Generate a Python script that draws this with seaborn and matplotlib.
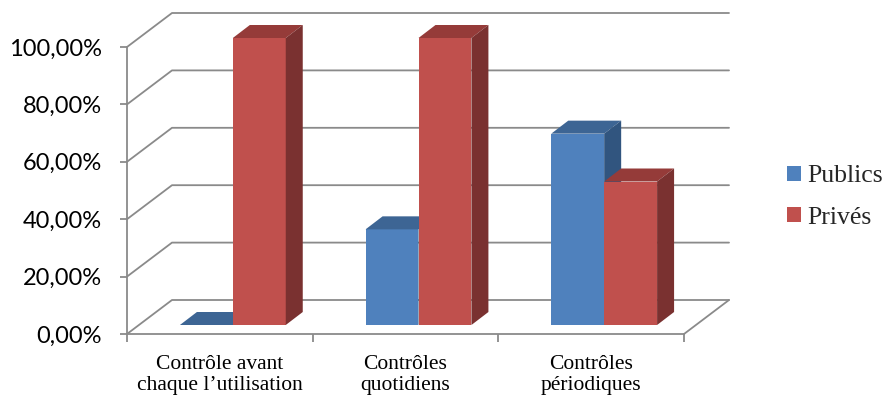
import matplotlib
matplotlib.use("Agg")
import matplotlib.pyplot as plt
import numpy as np
import pandas as pd
import seaborn as sns
from matplotlib.transforms import Affine2D, IdentityTransform
from matplotlib.patches import Polygon, Patch
from matplotlib.lines import Line2D

# ---- data -------------------------------------------------------------
categories = ["Contrôle avant\nchaque l’utilisation", "Contrôles\nquotidiens", "Contrôles\npériodiques"]
series = ["Publics", "Privés"]
publics = [0.0, 33.33, 66.67]
prives = [100.0, 100.0, 50.0]
y_ticks = [0, 20, 40, 60, 80, 100]
y_tick_labels = [f"{v:.2f}%".replace(".", ",") for v in y_ticks]

# ---- style ------------------------------------------------------------
front_colors = {"Publics": "#4F81BD", "Privés": "#C0504D"}
top_colors = {"Publics": "#3D6594", "Privés": "#953B39"}
side_colors = {"Publics": "#31557F", "Privés": "#7A3130"}
grid_color = "#8A8A8A"

wall_off = (45, 34)     # depth of the box (display px)
bar_shift = (13, 9)     # bars sit part-way into the box
bar_depth = (17, 13)    # depth of each bar

df = pd.DataFrame({
    "categorie": categories * 2,
    "serie": [series[0]] * len(categories) + [series[1]] * len(categories),
    "valeur": publics + prives,
})

sns.set_style("white")
fig = plt.figure(figsize=(8.85, 3.96), dpi=100)
ax = fig.add_axes([127 / 885, 62 / 396, 557 / 885, 287 / 396])

sns.barplot(data=df, x="categorie", y="valeur", hue="serie", hue_order=series,
            palette=front_colors, saturation=1, width=0.57, linewidth=0,
            legend=False, ax=ax)

ax.set_xlim(-0.5, len(categories) - 0.5)
ax.set_ylim(0, 100)

# ---- box walls: gridlines on back wall + left wall, floor ----------------
to_disp = ax.transData.transform
for v in y_ticks:
    x0, y0 = to_disp((-0.5, v))
    x1, _ = to_disp((len(categories) - 0.5, v))
    ax.add_line(Line2D([x0, x0 + wall_off[0], x1 + wall_off[0]],
                       [y0, y0 + wall_off[1], y0 + wall_off[1]],
                       transform=IdentityTransform(), color=grid_color,
                       lw=1.3, zorder=1, clip_on=False))
fx0, fy0 = to_disp((len(categories) - 0.5, 0))
ax.add_line(Line2D([fx0, fx0 + wall_off[0]], [fy0, fy0 + wall_off[1]],
                   transform=IdentityTransform(), color=grid_color,
                   lw=1.3, zorder=1, clip_on=False))

# ---- 3D bars ------------------------------------------------------------
shift_tr = ax.transData + Affine2D().translate(*bar_shift)
for i, (name, cont) in enumerate(zip(series, ax.containers)):
    for p in cont.patches:
        p.set_transform(shift_tr)
        p.set_clip_on(False)
        p.set_zorder(3 + i)
        xa, ya = p.get_x(), p.get_y()
        w, h = p.get_width(), p.get_height()
        (dx0, dy0) = shift_tr.transform((xa, ya))
        (dx1, dy1) = shift_tr.transform((xa + w, ya + h))
        ddx, ddy = bar_depth
        top = Polygon([(dx0, dy1), (dx1, dy1), (dx1 + ddx, dy1 + ddy), (dx0 + ddx, dy1 + ddy)],
                      closed=True, facecolor=top_colors[name], edgecolor="none",
                      transform=IdentityTransform(), zorder=3.5 + i, clip_on=False)
        side = Polygon([(dx1, dy0), (dx1, dy1), (dx1 + ddx, dy1 + ddy), (dx1 + ddx, dy0 + ddy)],
                       closed=True, facecolor=side_colors[name], edgecolor="none",
                       transform=IdentityTransform(), zorder=3.5 + i, clip_on=False)
        ax.add_patch(top)
        ax.add_patch(side)

ax.set_xlim(-0.5, len(categories) - 0.5)
ax.set_ylim(0, 100)

# ---- axes, ticks, labels ----------------------------------------------
for s in ["top", "right"]:
    ax.spines[s].set_visible(False)
for s in ["left", "bottom"]:
    ax.spines[s].set_color(grid_color)
    ax.spines[s].set_linewidth(1.3)
    ax.spines[s].set_zorder(2)

ax.set_yticks(y_ticks)
ax.set_yticklabels(y_tick_labels, fontfamily="Lato", fontsize=17, color="black")
ax.tick_params(axis="y", left=True, length=5, width=1.3, color=grid_color, pad=13)

ax.set_xticks(range(len(categories)))
ax.set_xticklabels(categories, fontfamily="Liberation Serif", fontsize=15.5,
                   color="black", linespacing=1.15)
ax.set_xticks(np.arange(-0.5, len(categories), 1.0), minor=True)
ax.tick_params(axis="x", which="major", bottom=False, length=0, pad=15)
ax.tick_params(axis="x", which="minor", bottom=True, length=6, width=1.3, color=grid_color)

ax.set_xlabel("")
ax.set_ylabel("")

handles = [Patch(facecolor=front_colors[n], edgecolor="none", label=n) for n in series]
fig.legend(handles=handles, loc="center left", bbox_to_anchor=(787 / 885, 199 / 396),
           frameon=False, prop={"family": "Liberation Serif", "size": 18.5},
           handlelength=0.55, handleheight=0.55, handletextpad=0.25,
           labelspacing=0.75, borderpad=0, borderaxespad=0)

fig.savefig("out.png", dpi=100, facecolor="white")
